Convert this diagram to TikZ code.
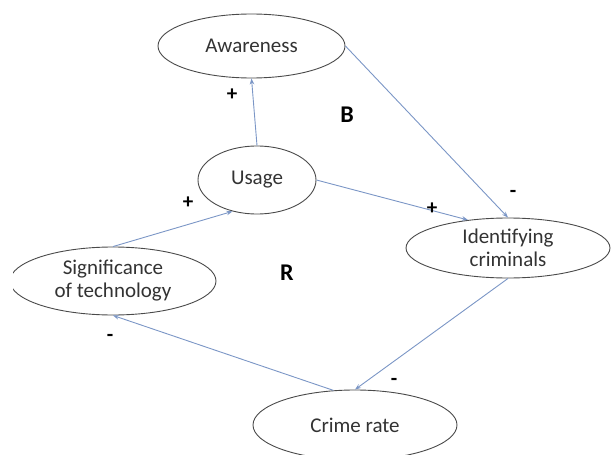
\documentclass[tikz,border=0pt]{standalone}
\usepackage{fontspec}
\setmainfont{Carlito}
\usetikzlibrary{shapes.geometric,arrows.meta}
\definecolor{lnk}{HTML}{7B96C6}
\definecolor{rim}{HTML}{4A4A4A}
\definecolor{txt}{HTML}{333333}
\tikzset{
  var/.style={ellipse, draw=rim, line width=0.9pt, fill=white, inner sep=0pt,
    text=txt, align=center, font=\fontsize{21}{23}\selectfont},
  link/.style={draw=lnk, line width=0.9pt, -{Stealth[length=6pt,width=4.5pt]}},
  sgn/.style={font=\fontsize{21}{23}\selectfont\bfseries, text=black, inner sep=0pt},
  loopname/.style={font=\fontsize{24}{26}\selectfont\bfseries, text=black, inner sep=0pt}
}
\begin{document}
\begin{tikzpicture}[x=1pt,y=-1pt]
\useasboundingbox (0,0) rectangle (611,455);
\clip (13,0) rectangle (611,455);
\node[var, minimum width=187pt, minimum height=64pt] (aw) at (251.5,46) {Awareness};
\node[var, minimum width=118pt, minimum height=68pt] (us) at (257,180) {Usage};
\node[var, minimum width=206pt, minimum height=68pt] (sig) at (113,281) {Significance\\of technology};
\node[var, minimum width=204pt, minimum height=60pt] (id) at (508,248) {Identifying\\criminals};
\node[var, minimum width=204pt, minimum height=70pt] (cr) at (355,425) {Crime rate};

\draw[link] (us.north) -- (aw.south);
\draw[link] (aw.east) -- (id.north);
\draw[link] (us.east) -- (id.145);
\draw[link] (sig.north) -- (us.232);
\draw[link] (id.south) -- (cr.north);
\draw[link] (cr.122) -- (sig.south);

\node[sgn] (p1) at (232,95) {+};
\node[sgn] (p2) at (188,203) {+};
\node[sgn] (p3) at (432,209) {+};
\node[sgn] (m1) at (513,194) {-};
\node[sgn] (m2) at (110,338) {-};
\node[sgn] (m3) at (394,382) {-};
\node[loopname] (lb) at (347,115) {B};
\node[loopname] (lr) at (287,273) {R};
\end{tikzpicture}
\end{document}
